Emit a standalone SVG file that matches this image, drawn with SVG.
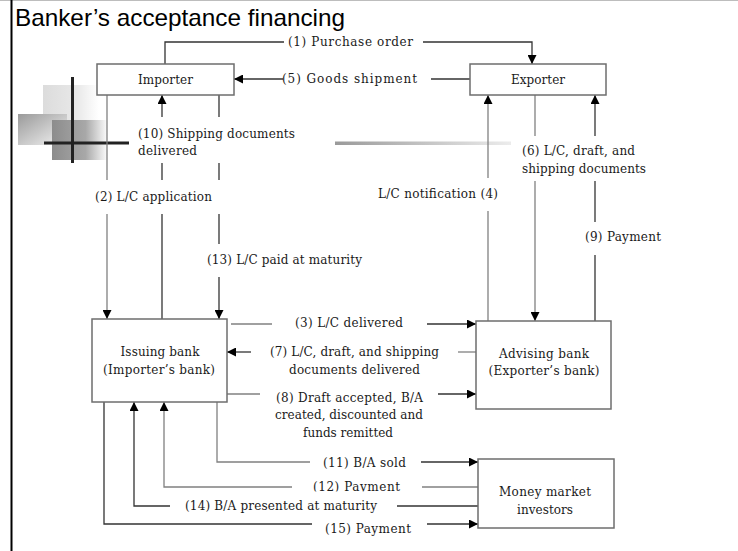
<svg xmlns="http://www.w3.org/2000/svg" width="738" height="551" viewBox="0 0 738 551">
  <defs>
    <style>
      .t{font-family:"DejaVu Serif","Liberation Serif",serif;font-size:12px;fill:#1a1a1a}
      .tm{text-anchor:middle}
      .box{fill:#fff;stroke:#6e6e6e;stroke-width:1.5}
      .ln{fill:none;stroke:#333;stroke-width:1.3}
      .lg{fill:none;stroke:#808080;stroke-width:1.3}
      .ar{marker-end:url(#arr)}
    </style>
    <marker id="arr" viewBox="0 0 10 10" refX="10" refY="5" markerWidth="9" markerHeight="9" markerUnits="userSpaceOnUse" orient="auto">
      <path d="M0,0 L10,5 L0,10 z" fill="#000"/>
    </marker>
    <linearGradient id="gLight" x1="0" y1="0" x2="1" y2="0">
      <stop offset="0" stop-color="#dcdcdc"/>
      <stop offset="0.6" stop-color="#e8e8e8"/>
      <stop offset="1" stop-color="#ffffff"/>
    </linearGradient>
    <linearGradient id="gMid" x1="0" y1="0" x2="1" y2="1">
      <stop offset="0" stop-color="#9a9a9a"/>
      <stop offset="1" stop-color="#f4f4f4"/>
    </linearGradient>
    <linearGradient id="gDark" x1="0" y1="0" x2="1" y2="0">
      <stop offset="0" stop-color="#8c8c8c"/>
      <stop offset="0.6" stop-color="#a8a8a8"/>
      <stop offset="1" stop-color="#ffffff"/>
    </linearGradient>
    <linearGradient id="gBar" x1="0" y1="0" x2="1" y2="0">
      <stop offset="0" stop-color="#9a9a9a"/>
      <stop offset="1" stop-color="#ececec"/>
    </linearGradient>
    <clipPath id="clip12">
      <rect x="300" y="470" width="120" height="21.5"/>
    </clipPath>
  </defs>

  <rect x="0" y="0" width="738" height="551" fill="#fff"/>
  <line x1="0" y1="0.5" x2="738" y2="0.5" stroke="#bdbdbd" stroke-width="1"/>
  <line x1="11.5" y1="0" x2="11.5" y2="551" stroke="#000" stroke-width="2"/>

  <text x="15" y="26" font-family="Liberation Sans, Arial, sans-serif" font-size="24" fill="#000" textLength="330" lengthAdjust="spacingAndGlyphs">Banker’s acceptance financing</text>

  <!-- decoration -->
  <g id="decoration">
    <rect x="43" y="85" width="56" height="36" fill="url(#gLight)"/>
    <rect x="18" y="114" width="49" height="31" fill="url(#gMid)"/>
    <rect x="52" y="120" width="56" height="40" fill="url(#gDark)"/>
    <line x1="72.5" y1="77" x2="72.5" y2="163" stroke="#222" stroke-width="3"/>
    <line x1="44" y1="143" x2="129" y2="143" stroke="#222" stroke-width="3"/>
    <rect x="335" y="141.5" width="176" height="3.5" fill="url(#gBar)"/>
  </g>

  <g id="connectors">
    <!-- (1) Purchase order -->
    <polyline class="ln" points="165,64 165,42 284,42"/>
    <polyline class="ln ar" points="423,42 532,42 532,64"/>
    <!-- (5) Goods shipment -->
    <line class="ln" x1="470" y1="79" x2="431" y2="79"/>
    <line class="ln ar" x1="283" y1="79" x2="234" y2="79"/>
    <!-- (2) L/C application -->
    <line class="lg" x1="107" y1="95" x2="107" y2="180"/>
    <line class="lg ar" x1="107" y1="214" x2="107" y2="319"/>
    <!-- (10) Shipping documents delivered -->
    <line class="ln" x1="162" y1="319" x2="162" y2="214"/>
    <line class="ln" x1="162" y1="180" x2="162" y2="163"/>
    <line class="ln ar" x1="162" y1="117" x2="162" y2="95"/>
    <!-- (13) L/C paid at maturity -->
    <line class="ln" x1="219" y1="95" x2="219" y2="117"/>
    <line class="ln" x1="219" y1="163" x2="219" y2="180"/>
    <line class="ln" x1="219" y1="214" x2="219" y2="244"/>
    <line class="ln ar" x1="219" y1="277" x2="219" y2="319"/>
    <!-- (4) L/C notification -->
    <line class="lg" x1="488" y1="321" x2="488" y2="211"/>
    <line class="lg ar" x1="488" y1="178" x2="488" y2="95"/>
    <!-- (6) L/C, draft, and shipping documents -->
    <line class="lg" x1="535" y1="95" x2="535" y2="136"/>
    <line class="lg ar" x1="535" y1="181" x2="535" y2="321"/>
    <!-- (9) Payment -->
    <line class="ln" x1="595" y1="321" x2="595" y2="255"/>
    <line class="ln" x1="595" y1="222" x2="595" y2="181"/>
    <line class="ln ar" x1="595" y1="136" x2="595" y2="95"/>
    <!-- (3) L/C delivered -->
    <line class="lg" x1="231" y1="324" x2="272" y2="324"/>
    <line class="ln ar" x1="427" y1="324" x2="476" y2="324"/>
    <!-- (7) -->
    <line class="lg" x1="476" y1="352" x2="458" y2="352"/>
    <line class="ln ar" x1="251" y1="352" x2="227" y2="352"/>
    <!-- (8) -->
    <line class="lg" x1="227" y1="394" x2="260" y2="394"/>
    <line class="ln ar" x1="438" y1="394" x2="476" y2="394"/>
    <!-- (11) B/A sold -->
    <polyline class="lg" points="217,402 217,462 310,462"/>
    <line class="ln ar" x1="421" y1="462" x2="478" y2="462"/>
    <!-- (12) Payment -->
    <line class="lg" x1="478" y1="487" x2="422" y2="487"/>
    <polyline class="lg ar" points="292,487 164,487 164,402"/>
    <!-- (14) B/A presented at maturity -->
    <line class="ln" x1="478" y1="506" x2="397" y2="506"/>
    <polyline class="ln ar" points="170,506 134,506 134,402"/>
    <!-- (15) Payment -->
    <polyline class="ln" points="104,402 104,524 312,524"/>
    <line class="ln ar" x1="427" y1="524" x2="478" y2="524"/>
  </g>

  <g id="labels">
    <text class="t" x="288" y="46" textLength="125" lengthAdjust="spacing">(1) Purchase order</text>
    <text class="t" x="282" y="83" textLength="135" lengthAdjust="spacing">(5) Goods shipment</text>
    <text class="t" x="138" y="138" textLength="157" lengthAdjust="spacing">(10) Shipping documents</text>
    <text class="t" x="138" y="155" textLength="59" lengthAdjust="spacing">delivered</text>
    <text class="t" x="95" y="201" textLength="117" lengthAdjust="spacing">(2) L/C application</text>
    <text class="t" x="207" y="264" textLength="155" lengthAdjust="spacing">(13) L/C paid at maturity</text>
    <text class="t" x="378" y="198" textLength="120" lengthAdjust="spacing">L/C notification (4)</text>
    <text class="t" x="522" y="155" textLength="113" lengthAdjust="spacing">(6) L/C, draft, and</text>
    <text class="t" x="522" y="173" textLength="124" lengthAdjust="spacing">shipping documents</text>
    <text class="t" x="585" y="241" textLength="76" lengthAdjust="spacing">(9) Payment</text>
    <text class="t" x="295" y="327" textLength="108" lengthAdjust="spacing">(3) L/C delivered</text>
    <text class="t" x="270" y="356" textLength="169" lengthAdjust="spacing">(7) L/C, draft, and shipping</text>
    <text class="t" x="289" y="374" textLength="131" lengthAdjust="spacing">documents delivered</text>
    <text class="t" x="276" y="402" textLength="147" lengthAdjust="spacing">(8) Draft accepted, B/A</text>
    <text class="t" x="275" y="419" textLength="148" lengthAdjust="spacing">created, discounted and</text>
    <text class="t" x="303" y="437" textLength="90" lengthAdjust="spacing">funds remitted</text>
    <text class="t" x="323" y="467" textLength="83" lengthAdjust="spacing">(11) B/A sold</text>
    <text class="t" x="313" y="491" textLength="87" lengthAdjust="spacing" clip-path="url(#clip12)">(12) Payment</text>
    <text class="t" x="185" y="510" textLength="192" lengthAdjust="spacing">(14) B/A presented at maturity</text>
    <text class="t" x="325" y="533" textLength="86" lengthAdjust="spacing">(15) Payment</text>
  </g>

  <g id="importer">
    <rect class="box" x="97" y="64" width="137" height="31"/>
    <text class="t tm" x="165.5" y="84" textLength="55" lengthAdjust="spacing">Importer</text>
  </g>
  <g id="exporter">
    <rect class="box" x="470" y="64" width="136" height="31"/>
    <text class="t tm" x="538" y="84" textLength="54" lengthAdjust="spacing">Exporter</text>
  </g>
  <g id="issuing-bank">
    <rect class="box" x="92" y="319" width="135" height="83"/>
    <text class="t tm" x="160" y="356" textLength="79" lengthAdjust="spacing">Issuing bank</text>
    <text class="t tm" x="159" y="374" textLength="112" lengthAdjust="spacing">(Importer’s bank)</text>
  </g>
  <g id="advising-bank">
    <rect class="box" x="476" y="321" width="135" height="88"/>
    <text class="t tm" x="544" y="358" textLength="90" lengthAdjust="spacing">Advising bank</text>
    <text class="t tm" x="544" y="375" textLength="111" lengthAdjust="spacing">(Exporter’s bank)</text>
  </g>
  <g id="money-market-investors">
    <rect class="box" x="478" y="459" width="136" height="69"/>
    <text class="t tm" x="545" y="496" textLength="92" lengthAdjust="spacing">Money market</text>
    <text class="t tm" x="545" y="514" textLength="56" lengthAdjust="spacing">investors</text>
  </g>
</svg>
